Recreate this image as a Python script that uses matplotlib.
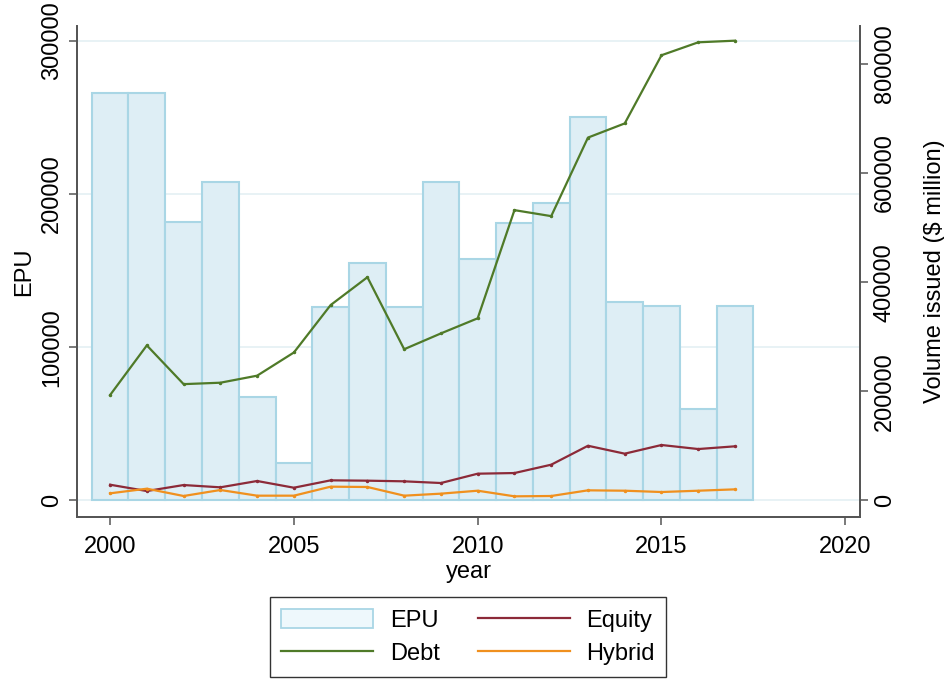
import numpy as np
import matplotlib
matplotlib.use("Agg")
import matplotlib.pyplot as plt
from matplotlib.patches import Patch
from matplotlib.lines import Line2D

plt.rcParams["font.family"] = ["Liberation Sans", "DejaVu Sans"]

years = [2000, 2001, 2002, 2003, 2004, 2005, 2006, 2007, 2008,
         2009, 2010, 2011, 2012, 2013, 2014, 2015, 2016, 2017]
epu = [266000, 266000, 181600, 208100, 67700, 24200, 126500, 155200, 126500,
       208100, 157400, 181300, 194400, 250200, 129300, 126700, 59800, 126700]
debt = [193000, 284000, 213000, 215600, 228500, 271000, 358000, 409000, 277000,
        306000, 333700, 532000, 521000, 665000, 691000, 816000, 839700, 842700]
equity = [28600, 17000, 28000, 23800, 35400, 23100, 36600, 36000, 34800,
          31700, 48800, 50000, 65300, 100000, 85500, 101400, 94000, 99000]
hybrid = [12800, 21300, 7900, 18900, 8500, 8500, 25000, 24400, 8500,
          12200, 17600, 7300, 7900, 18300, 17600, 15200, 17600, 20100]

bar_face = "#deeef5"
bar_edge = "#a9d6e5"
c_debt = "#4f7a28"
c_equity = "#8c2a38"
c_hybrid = "#f0901e"
spine_c = "#555555"

fig = plt.figure(figsize=(9.44, 6.8), dpi=100)
ax = fig.add_axes([77 / 944, 1 - 517 / 680, (860 - 77) / 944, (517 - 26) / 680])
ax2 = ax.twinx()

ax.bar(years, epu, width=1.0, color=bar_face, edgecolor=bar_edge,
       linewidth=1.5, zorder=2)
ax.set_ylim(-10900, 309800)
ax.set_xlim(1999.1, 2020.4)
ax.set_yticks([0, 100000, 200000, 300000])
ax.set_xticks([2000, 2005, 2010, 2015, 2020])
ax.grid(axis="y", color="#e6f1f4", linewidth=1.3, zorder=0)
ax.set_axisbelow(True)

ax2.plot(years, debt, color=c_debt, lw=1.6, marker="o", ms=1.5)
ax2.plot(years, equity, color=c_equity, lw=1.6, marker="o", ms=1.5)
ax2.plot(years, hybrid, color=c_hybrid, lw=1.6, marker="o", ms=1.5)
ax2.set_ylim(-30600, 869600)
ax2.set_yticks([0, 200000, 400000, 600000, 800000])

for a in (ax, ax2):
    a.spines["top"].set_visible(False)
    for s in ("left", "right", "bottom"):
        a.spines[s].set_color(spine_c)
        a.spines[s].set_linewidth(1.3)
    a.tick_params(length=6, width=1.1, color=spine_c, labelsize=17, pad=4)
ax.tick_params(axis="x", pad=8)

for lab in ax.get_yticklabels():
    lab.set_rotation(90)
    lab.set_va("center")
for lab in ax2.get_yticklabels():
    lab.set_rotation(90)
    lab.set_va("center")

ax.set_ylabel("EPU", fontsize=17, labelpad=4)
ax2.set_ylabel("Volume issued ($ million)", fontsize=17, labelpad=20)
ax.set_xlabel("year", fontsize=17, labelpad=2)

handles = [
    Patch(facecolor="#eef8fc", edgecolor=bar_edge, linewidth=1.3),
    Line2D([], [], color=c_debt, lw=1.6),
    Line2D([], [], color=c_equity, lw=1.6),
    Line2D([], [], color=c_hybrid, lw=1.6),
]
labels = ["EPU", "Debt", "Equity", "Hybrid"]
leg = fig.legend(handles, labels, ncol=2, loc="upper center",
                 bbox_to_anchor=(468 / 944, 1 - 597 / 680), fontsize=17,
                 frameon=True, fancybox=False, edgecolor="black",
                 handlelength=3.9, handleheight=0.9, columnspacing=1.6,
                 borderpad=0.5, labelspacing=0.45, handletextpad=0.7,
                 borderaxespad=0)
leg.get_frame().set_linewidth(1.0)

fig.savefig("out.png", dpi=100)
